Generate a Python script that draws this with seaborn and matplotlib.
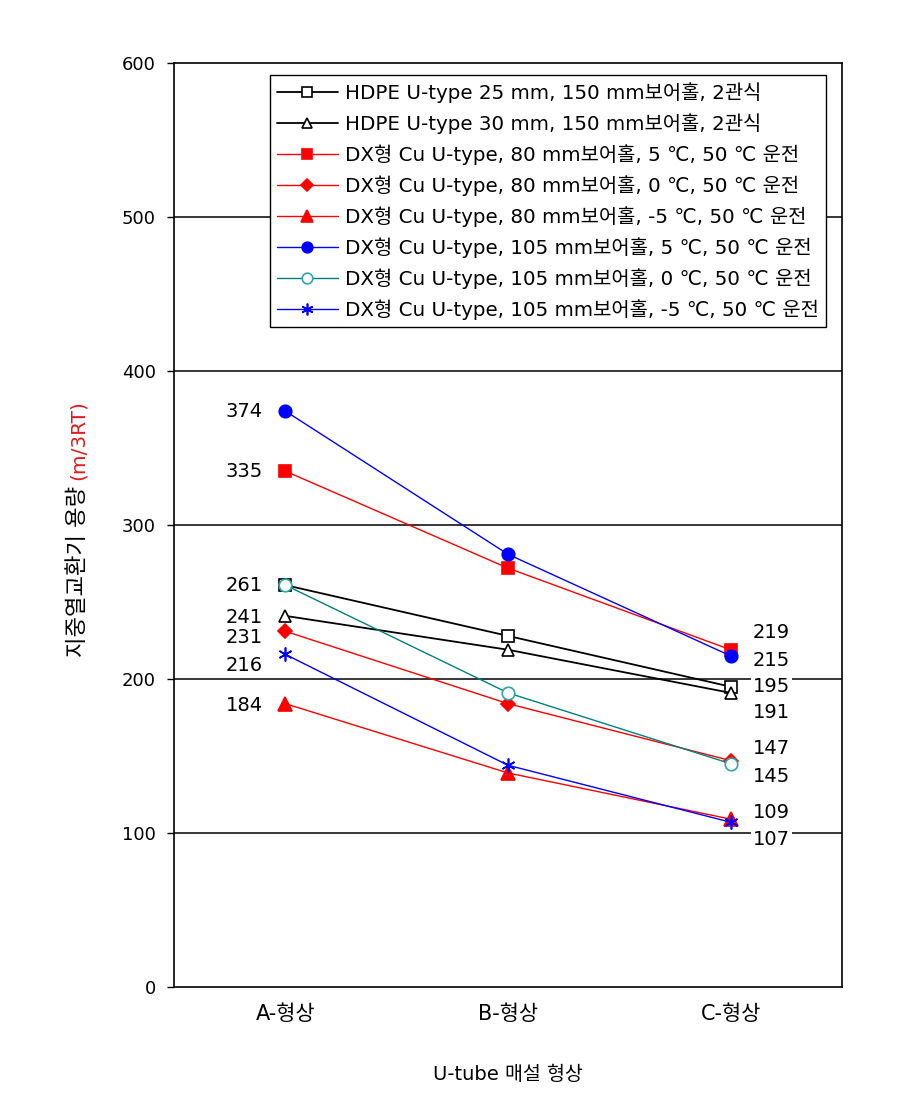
import pandas as pd
import matplotlib
matplotlib.use("Agg")
import matplotlib.pyplot as plt
import seaborn as sns

shapes = ["A-형상", "B-형상", "C-형상"]

labels = [
    "HDPE U-type 25 mm, 150 mm보어홀, 2관식",
    "HDPE U-type 30 mm, 150 mm보어홀, 2관식",
    "DX형 Cu U-type, 80 mm보어홀, 5 ℃, 50 ℃ 운전",
    "DX형 Cu U-type, 80 mm보어홀, 0 ℃, 50 ℃ 운전",
    "DX형 Cu U-type, 80 mm보어홀, -5 ℃, 50 ℃ 운전",
    "DX형 Cu U-type, 105 mm보어홀, 5 ℃, 50 ℃ 운전",
    "DX형 Cu U-type, 105 mm보어홀, 0 ℃, 50 ℃ 운전",
    "DX형 Cu U-type, 105 mm보어홀, -5 ℃, 50 ℃ 운전",
]

hdpe_25 = [261, 228, 195]
hdpe_30 = [241, 219, 191]
dx80_p5 = [335, 272, 219]
dx80_0 = [231, 184, 147]
dx80_m5 = [184, 139, 109]
dx105_p5 = [374, 281, 215]
dx105_0 = [261, 191, 145]
dx105_m5 = [216, 144, 107]

series = [hdpe_25, hdpe_30, dx80_p5, dx80_0, dx80_m5, dx105_p5, dx105_0, dx105_m5]

# style per series: line colour, marker, face, edge, size
styles = [
    ("black", "s", "white", "black", 9),
    ("black", "^", "white", "black", 9),
    ("#ff0000", "s", "#ff0000", "#ff0000", 8),
    ("#ff0000", "D", "#ff0000", "#ff0000", 7.5),
    ("#ff0000", "^", "#ff0000", "#ff0000", 9.5),
    ("#0000ff", "o", "#0000ff", "#0000ff", 9),
    ("#008080", "o", "white", "#30a8a8", 9),
    ("#0000ff", (6, 2, 0), "#0000ff", "#0000ff", 10),
]

# value labels next to the end points (y is where the text sits)
left_text = [374, 335, 261, 241, 231, 216, 184]
left_pos = [374, 335, 261, 240, 227, 209, 183]
right_text = [219, 215, 195, 191, 147, 145, 109, 107]
right_pos = [230, 212, 195, 178, 155, 137, 113, 96]

sns.set_style("white")
plt.rcParams['font.family'] = ['DejaVu Sans', 'Noto Sans CJK KR']
plt.rcParams['text.color'] = 'black'
plt.rcParams['xtick.color'] = 'black'
plt.rcParams['ytick.color'] = 'black'

fig = plt.figure(figsize=(9.08, 10.94), dpi=100)
ax = fig.add_axes([0.1916, 0.0978, 0.7357, 0.8446])

for vals, lab, (c, m, fc, ec, ms) in zip(series, labels, styles):
    df = pd.DataFrame({"shape": shapes, "value": vals})
    lw = 1.3 if c == "black" else 1.0
    sns.lineplot(data=df, x="shape", y="value", ax=ax, color=c, lw=lw,
                 marker=m, markerfacecolor=fc, markeredgecolor=ec,
                 markersize=ms, markeredgewidth=1.2, label=lab, zorder=4)

for t, p in zip(left_text, left_pos):
    ax.annotate(str(t), xy=(0, p), xytext=(-16, 0), textcoords="offset points",
                ha="right", va="center", fontsize=14, zorder=5)
for t, p in zip(right_text, right_pos):
    ax.annotate(str(t), xy=(2, p), xytext=(16, 0), textcoords="offset points",
                ha="left", va="center", fontsize=14, zorder=5,
                bbox=dict(fc="white", ec="none", pad=1.5))

ax.set_xlim(-0.5, 2.5)
ax.set_ylim(0, 600)
ax.set_yticks(range(0, 601, 100))
for yv in range(100, 600, 100):
    ax.axhline(yv, color="black", lw=1.1, zorder=1)

ax.set_xticks([0.5, 1.5], minor=True)
ax.tick_params(axis="x", which="major", length=0, pad=12, labelsize=15)
ax.tick_params(axis="x", which="minor", direction="in", length=5, width=1, color="black")
ax.tick_params(axis="y", which="major", direction="out", length=5, width=1,
               color="black", labelsize=13, pad=8, left=True)
for s in ax.spines.values():
    s.set_color("black")
    s.set_linewidth(1.2)
ax.set_xlabel("")
ax.set_ylabel("")

leg = ax.legend(loc="upper right", bbox_to_anchor=(0.976, 0.987), fontsize=14.3,
                frameon=True, fancybox=False, edgecolor="black", framealpha=1,
                handlelength=3.1, handletextpad=0.35, labelspacing=0.52,
                borderpad=0.35, borderaxespad=0, markerscale=0.85)
leg.get_frame().set_linewidth(1.0)

yl = fig.text(0.086, 1 - 657 / 1094, "지중열교환기 용량", rotation=90,
              ha="center", va="bottom", fontsize=16)
ax.annotate("(m/3RT)", xy=(0.5, 1), xycoords=yl, xytext=(0, 4),
            textcoords="offset points", rotation=90, ha="center", va="bottom",
            fontsize=14.5, color="#e31a1c", annotation_clip=False)
fig.text(0.559, 1 - 1075 / 1094, "U-tube 매설 형상", ha="center", va="center",
         fontsize=14)

fig.savefig("out.png", dpi=100, facecolor="white")
